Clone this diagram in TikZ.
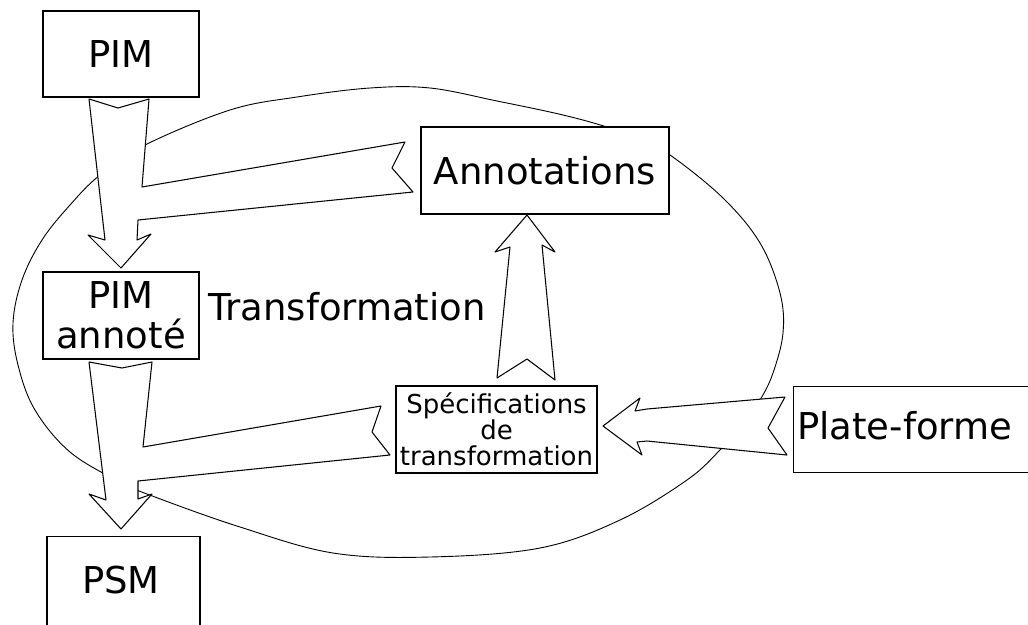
\documentclass[tikz,border=0pt]{standalone}
\usepackage{fontspec}
\setmainfont{DejaVu Sans}
\begin{document}
\begin{tikzpicture}[x=1pt,y=-1pt,
  box/.style={draw, line width=1.2pt, fill=white, inner sep=0pt},
  big/.style={font=\fontsize{37}{40}\selectfont},
  small/.style={font=\fontsize{26}{26}\selectfont},
  lbl/.style={inner sep=0pt},
  blockarrow/.style={draw, fill=white, line width=1.05pt, line join=round},
  loopline/.style={draw, line width=0.9pt}]

\useasboundingbox (0,0) rectangle (1028,624);
\clip (0,0) rectangle (1028,624);
\fill[white] (0,0) rectangle (1028,624);

% the transformation loop, drawn first so arrows and boxes cover it
\draw[loopline] plot[smooth cycle, tension=0.6] coordinates {
  (145,145) (230,110) (297,97) (370,88) (430,88) (497,101) (563,115)
  (610,128) (640,140) (670,155) (723,198) (760,243) (780,293) (783,333)
  (773,373) (760,400) (742,425) (720,450) (687,480) (620,520) (540,548)
  (430,557) (333,553) (240,527) (155,497) (120,482) (70,452) (35,410)
  (18,365) (13,323) (22,280) (42,240) (70,205) (100,175)};

% PIM -> PIM annoté, joined by the branch from Annotations
\draw[blockarrow] (89,99) -- (118,108) -- (149,99) -- (142,187)
  -- (405,142) -- (392,168) -- (413,192) -- (138,220) -- (137,240)
  -- (151,234) -- (121,268) -- (88,235) -- (105,240) -- cycle;

% PIM annoté -> PSM, joined by the branch from the specifications
\draw[blockarrow] (89,362) -- (122,368) -- (152,362) -- (143,447)
  -- (381,406) -- (372,432) -- (390,455) -- (138,481) -- (138,499)
  -- (152,494) -- (121,529) -- (89,494) -- (106,500) -- cycle;

% specifications -> Annotations
\draw[blockarrow] (527,215) -- (555,252) -- (542,245) -- (555,380)
  -- (527,359) -- (497,378) -- (510,247) -- (495,252) -- cycle;

% Plate-forme -> specifications
\draw[blockarrow] (603,426) -- (640,398) -- (635,411) -- (647,409)
  -- (785,397) -- (768,428) -- (787,455) -- (647,441) -- (637,442)
  -- (642,455) -- cycle;

% boxes
\node[box, big, minimum width=156pt, minimum height=86pt] (pim) at (121,54) {PIM};
\node[box, big, minimum width=248pt, minimum height=87pt] (annot) at (545,170.5) {Annotations};
\node[box, big, align=center, minimum width=156pt, minimum height=87pt] (pima) at (121,315.5) {PIM\\annoté};
\node[box, small, align=center, minimum width=201pt, minimum height=87pt] (spec) at (496.5,429.5) {Spécifications\\de\\transformation};
\node[box, minimum width=300pt, minimum height=86pt, anchor=north west] (plat) at (793,386) {};
\node[lbl, big, anchor=base west] (platlbl) at (797,439) {Plate-forme};
\node[box, minimum width=153pt, minimum height=110pt, anchor=north] (psm) at (123.5,536) {};
\node[lbl, big, anchor=base] (psmlbl) at (121,593) {PSM};

% free label
\node[lbl, big, anchor=base west] (trans) at (208,320) {Transformation};
\end{tikzpicture}
\end{document}
